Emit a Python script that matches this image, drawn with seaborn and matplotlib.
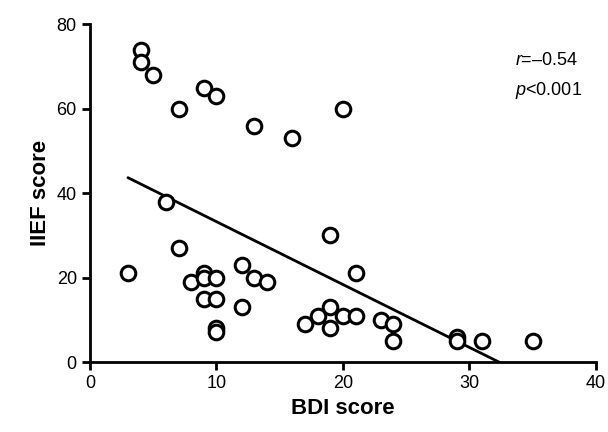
import pandas as pd
import matplotlib
matplotlib.use('Agg')
import matplotlib.pyplot as plt
import seaborn as sns

bdi = [4, 4, 5, 7, 9, 10, 13, 16, 20,
       3, 6, 7, 8, 9, 9, 9, 10, 10, 10, 10, 12, 12, 13, 14,
       17, 18, 19, 19, 19, 20, 21, 21, 23, 24, 24, 29, 29, 31, 35]
iief = [74, 71, 68, 60, 65, 63, 56, 53, 60,
        21, 38, 27, 19, 21, 20, 15, 20, 15, 8, 7, 23, 13, 20, 19,
        9, 11, 30, 13, 8, 11, 21, 11, 10, 9, 5, 6, 5, 5, 5]

df = pd.DataFrame({'BDI score': bdi, 'IIEF score': iief})

sns.set_style('ticks')
plt.rcParams['font.family'] = ['Liberation Sans', 'DejaVu Sans']
plt.rcParams['mathtext.fontset'] = 'custom'
plt.rcParams['mathtext.it'] = 'Liberation Sans:italic'
plt.rcParams['mathtext.rm'] = 'Liberation Sans'
plt.rcParams['text.color'] = 'black'
plt.rcParams['axes.labelcolor'] = 'black'
plt.rcParams['xtick.color'] = 'black'
plt.rcParams['ytick.color'] = 'black'

fig = plt.figure(figsize=(6.08, 4.32), dpi=100)
ax = fig.add_axes([0.148, 0.162, 0.832, 0.782])

sns.regplot(x='BDI score', y='IIEF score', data=df, ci=None, ax=ax,
            scatter_kws=dict(s=110, facecolors='white', edgecolors='black',
                             linewidths=2.2, alpha=1, zorder=3),
            line_kws=dict(color='black', lw=2))

ax.set_xlim(0, 40)
ax.set_ylim(0, 80)
ax.set_xticks([0, 10, 20, 30, 40])
ax.set_yticks([0, 20, 40, 60, 80])
ax.tick_params(labelsize=13, width=2, length=6, color='black')
for s in ['left', 'bottom']:
    ax.spines[s].set_linewidth(2)
    ax.spines[s].set_color('black')
sns.despine(ax=ax)
ax.set_xlabel('BDI score', fontsize=16, fontweight='bold')
ax.set_ylabel('IIEF score', fontsize=16, fontweight='bold')

ax.text(0.84, 0.88, '$\\it{r}$=\u20130.54', transform=ax.transAxes, fontsize=13)
ax.text(0.84, 0.79, '$\\it{p}$<0.001', transform=ax.transAxes, fontsize=13)

fig.savefig('out.png', dpi=100)
